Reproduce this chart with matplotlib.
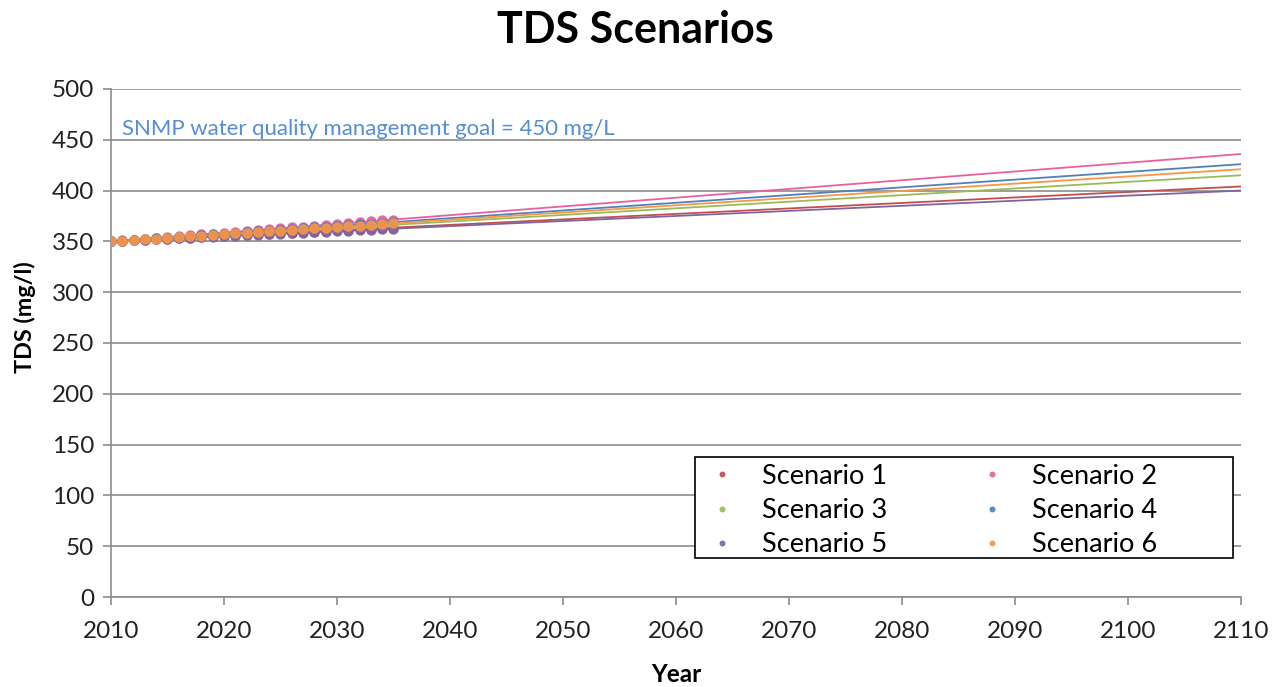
import numpy as np
import matplotlib.pyplot as plt
from matplotlib.patches import Rectangle

plt.rcParams['font.family'] = ['Lato', 'DejaVu Sans']

years = list(range(2010, 2036))
scenarios = ['Scenario 1', 'Scenario 2', 'Scenario 3', 'Scenario 4', 'Scenario 5', 'Scenario 6']
colors = ['#C0504D', '#E8609F', '#9BBB59', '#4F81BD', '#8064A2', '#F79646']

s1 = [350.0, 350.5, 351.1, 351.6, 352.2, 352.7, 353.2, 353.8, 354.3, 354.9, 355.4, 355.9, 356.5,
      357.0, 357.6, 358.1, 358.6, 359.2, 359.7, 360.3, 360.8, 361.3, 361.9, 362.4, 363.0, 363.5]
s2 = [350.0, 350.9, 351.7, 352.6, 353.4, 354.3, 355.2, 356.0, 356.9, 357.7, 358.6, 359.5, 360.3,
      361.2, 362.0, 362.9, 363.8, 364.6, 365.5, 366.3, 367.2, 368.1, 368.9, 369.8, 370.6, 371.5]
s3 = [350.0, 350.7, 351.3, 352.0, 352.6, 353.3, 353.9, 354.6, 355.2, 355.9, 356.5, 357.2, 357.8,
      358.5, 359.1, 359.8, 360.4, 361.1, 361.7, 362.4, 363.0, 363.7, 364.3, 365.0, 365.6, 366.3]
s4 = [350.0, 350.8, 351.5, 352.3, 353.0, 353.8, 354.6, 355.3, 356.1, 356.8, 357.6, 358.4, 359.1,
      359.9, 360.6, 361.4, 362.2, 362.9, 363.7, 364.4, 365.2, 366.0, 366.7, 367.5, 368.2, 369.0]
s5 = [350.0, 350.5, 351.0, 351.5, 352.0, 352.5, 353.0, 353.5, 354.0, 354.5, 355.0, 355.5, 356.0,
      356.5, 357.0, 357.5, 358.0, 358.5, 359.0, 359.5, 360.0, 360.5, 361.0, 361.5, 362.0, 362.5]
s6 = [350.0, 350.7, 351.4, 352.1, 352.8, 353.6, 354.3, 355.0, 355.7, 356.4, 357.1, 357.8, 358.5,
      359.2, 359.9, 360.7, 361.4, 362.1, 362.8, 363.5, 364.2, 364.9, 365.6, 366.3, 367.0, 367.8]
series = [s1, s2, s3, s4, s5, s6]

fig = plt.figure(figsize=(12.83, 6.87), dpi=100)
ax = fig.add_axes([0.0865, 0.131, 0.8805, 0.7395])

# linear trendlines, extended to 2110 like in Excel
trend_x = np.array([2010, 2110])
handles = []
for name, vals, c in zip(scenarios, series, colors):
    k, b = np.polyfit(years, vals, 1)
    ax.plot(trend_x, k * trend_x + b, color=c, lw=1.3, zorder=2)
for name, vals, c in zip(scenarios, series, colors):
    h, = ax.plot(years, vals, 'o', color=c, ms=6.5, alpha=0.9, zorder=3, label=name)
    handles.append(h)

ax.set_xlim(2010, 2110)
ax.set_ylim(0, 500)
ax.set_xticks(range(2010, 2111, 10))
ax.set_yticks(range(0, 501, 50))
ax.grid(axis='y', color='#8c8c8c', lw=1.2)
ax.set_axisbelow(True)
for s in ['top', 'right']:
    ax.spines[s].set_visible(False)
for s in ['left', 'bottom']:
    ax.spines[s].set_color('#8c8c8c')
    ax.spines[s].set_linewidth(1.2)
ax.tick_params(colors='#8c8c8c', labelcolor='#222222', labelsize=17.5, length=6, width=1.2)
ax.tick_params(axis='x', pad=11)
ax.tick_params(axis='y', pad=6)

fig.text(0.495, 1 - 30 / 687, 'TDS Scenarios', fontsize=31, fontweight='bold',
         ha='center', va='center')
ax.set_xlabel('Year', fontsize=17.5, fontweight='bold')
ax.set_ylabel('TDS (mg/l)', fontsize=16.8, fontweight='bold')
ax.xaxis.set_label_coords(0.5, -0.13)
ax.yaxis.set_label_coords(-0.066, 0.55)

ax.text(2011, 461, 'SNMP water quality management goal = 450 mg/L',
        color='#558ED5', fontsize=15.9, va='center')

# legend box is wider than its entries, as in the Excel original
ax.add_patch(Rectangle((0.517, 0.077), 0.476, 0.199, transform=ax.transAxes,
                       facecolor='white', edgecolor='black', lw=1.2, zorder=4))
order = [0, 2, 4, 1, 3, 5]
leg = ax.legend([handles[i] for i in order], [scenarios[i] for i in order], ncol=2,
                loc='center left', bbox_to_anchor=(0.5285, 0.170), fontsize=19.5,
                markerscale=0.5, frameon=False, handlelength=1.0, columnspacing=3.35,
                handletextpad=1.0, labelspacing=0.34, borderpad=0, borderaxespad=0)
leg.set_zorder(5)

fig.savefig('out.png', dpi=100)
